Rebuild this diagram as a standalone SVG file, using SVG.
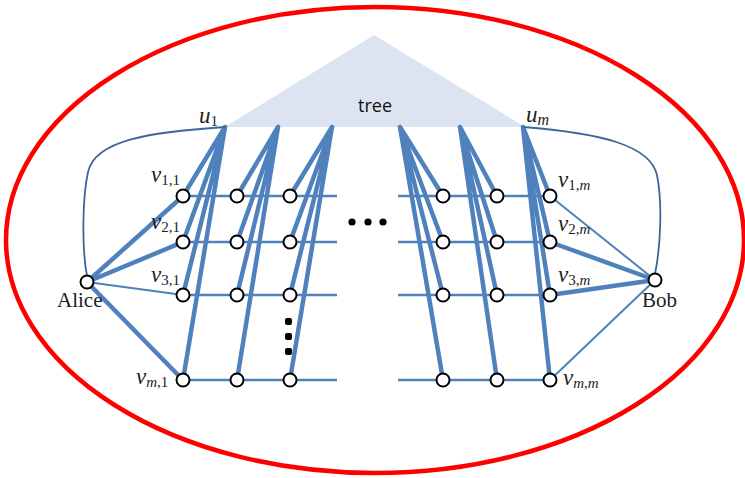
<svg xmlns="http://www.w3.org/2000/svg" width="745" height="478" viewBox="0 0 745 478">
  <style>
    .edge { stroke: #4f81bd; stroke-linecap: round; fill: none; }
    .thick { stroke-width: 4.5; }
    .thin { stroke-width: 2; }
    .row { stroke: #4f81bd; stroke-width: 2.4; fill: none; }
    .curve { stroke: #3d669a; stroke-width: 1.8; fill: none; }
    .node { fill: #fff; stroke: #000; stroke-width: 2; }
    .lbl { font-family: "Liberation Serif", "DejaVu Serif", serif; fill: #1e1e1e; }
    .var { font-style: italic; font-size: 23px; }
    .sub { font-size: 15px; }
    .name { font-family: "Liberation Serif", "DejaVu Serif", serif; font-size: 21px; fill: #1e1e1e; }
    .dot { fill: #000; }
  </style>

  <!-- outer boundary -->
  <ellipse cx="375" cy="240" rx="369" ry="233" fill="none" stroke="#ff0000" stroke-width="4.5"/>

  <!-- tree -->
  <g id="tree">
    <polygon points="374,35 225,127 525,127" fill="#dbe4f0"/>
    <text x="375" y="112" text-anchor="middle" font-family="Open Sans, Liberation Sans, sans-serif" font-size="18" fill="#111">tree</text>
  </g>

  <!-- connectors -->
  <g id="connectors">
    <!-- grid rows -->
    <path class="row" d="M183,196 H337 M183,242 H337 M183,295 H337 M183,380 H337"/>
    <path class="row" d="M398,196 H550 M398,242 H550 M398,295 H550 M398,380 H550"/>

    <!-- left columns from their roots -->
    <path class="edge thick" d="M225,127 L183,196 M225,127 L183,242 M225,127 L183,295 M225,127 L183,380"/>
    <path class="edge thick" d="M278,127 L237,196 M278,127 L237,242 M278,127 L237,295 M278,127 L237,380"/>
    <path class="edge thick" d="M332,127 L290,196 M332,127 L290,242 M332,127 L290,295 M332,127 L290,380"/>

    <!-- right columns from their roots -->
    <path class="edge thick" d="M400,127 L443,196 M400,127 L443,242 M400,127 L443,295 M400,127 L443,380"/>
    <path class="edge thick" d="M460,127 L497,196 M460,127 L497,242 M460,127 L497,295 M460,127 L497,380"/>
    <path class="edge thick" d="M523,127 L550,196 M523,127 L550,242 M523,127 L550,295 M523,127 L550,380"/>

    <!-- Alice -->
    <path class="edge thick" d="M87,282 L183,196 M87,282 L183,242 M87,282 L183,380"/>
    <path class="edge thin" d="M87,282 L183,295"/>

    <!-- Bob -->
    <path class="edge thick" d="M655,280 L550,242 M655,280 L550,295"/>
    <path class="edge thin" d="M655,280 L550,196 M655,280 L550,380"/>

    <!-- root links to the two ends -->
    <path class="curve" d="M225,127 C150,132 95,140 88,172 C82,200 82,250 87,276"/>
    <path class="curve" d="M523,127 C600,133 650,145 657,175 C663,205 660,250 655,274"/>
  </g>

  <!-- ellipsis marks -->
  <g id="ellipses">
    <circle class="dot" cx="352" cy="222" r="3.6"/>
    <circle class="dot" cx="368" cy="222" r="3.6"/>
    <circle class="dot" cx="383" cy="222" r="3.6"/>
    <rect class="dot" x="285" y="318" width="7" height="7" rx="2"/>
    <rect class="dot" x="285" y="333" width="7" height="7" rx="2"/>
    <rect class="dot" x="285" y="348" width="7" height="7" rx="2"/>
  </g>

  <!-- root labels -->
  <g id="u1"><text class="lbl" x="199" y="123"><tspan class="var">u</tspan><tspan class="sub" dy="3">1</tspan></text></g>
  <g id="um"><text class="lbl" x="526" y="122"><tspan class="var">u</tspan><tspan class="sub var" style="font-size:16px" dy="3">m</tspan></text></g>

  <!-- Alice and Bob -->
  <g id="alice">
    <circle class="node" cx="87" cy="282" r="6.5"/>
    <text class="name" x="57" y="307">Alice</text>
  </g>
  <g id="bob">
    <circle class="node" cx="655" cy="280" r="6.5"/>
    <text class="name" x="642" y="307">Bob</text>
  </g>

  <!-- left block -->
  <g id="v11"><circle class="node" cx="183" cy="196" r="6.5"/>
    <text class="lbl" x="151" y="182"><tspan class="var">v</tspan><tspan class="sub" dy="3">1,1</tspan></text></g>
  <g id="v21"><circle class="node" cx="183" cy="242" r="6.5"/>
    <text class="lbl" x="151" y="229"><tspan class="var">v</tspan><tspan class="sub" dy="3">2,1</tspan></text></g>
  <g id="v31"><circle class="node" cx="183" cy="295" r="6.5"/>
    <text class="lbl" x="151" y="282"><tspan class="var">v</tspan><tspan class="sub" dy="3">3,1</tspan></text></g>
  <g id="vm1"><circle class="node" cx="183" cy="380" r="6.5"/>
    <text class="lbl" x="136" y="384"><tspan class="var">v</tspan><tspan class="sub" dy="3"><tspan font-style="italic">m</tspan>,1</tspan></text></g>

  <g id="c2r1"><circle class="node" cx="237" cy="196" r="6.5"/></g>
  <g id="c2r2"><circle class="node" cx="237" cy="242" r="6.5"/></g>
  <g id="c2r3"><circle class="node" cx="237" cy="295" r="6.5"/></g>
  <g id="c2r4"><circle class="node" cx="237" cy="380" r="6.5"/></g>

  <g id="c3r1"><circle class="node" cx="290" cy="196" r="6.5"/></g>
  <g id="c3r2"><circle class="node" cx="290" cy="242" r="6.5"/></g>
  <g id="c3r3"><circle class="node" cx="290" cy="295" r="6.5"/></g>
  <g id="c3r4"><circle class="node" cx="290" cy="380" r="6.5"/></g>

  <!-- right block -->
  <g id="c4r1"><circle class="node" cx="443" cy="196" r="6.5"/></g>
  <g id="c4r2"><circle class="node" cx="443" cy="242" r="6.5"/></g>
  <g id="c4r3"><circle class="node" cx="443" cy="295" r="6.5"/></g>
  <g id="c4r4"><circle class="node" cx="443" cy="380" r="6.5"/></g>

  <g id="c5r1"><circle class="node" cx="497" cy="196" r="6.5"/></g>
  <g id="c5r2"><circle class="node" cx="497" cy="242" r="6.5"/></g>
  <g id="c5r3"><circle class="node" cx="497" cy="295" r="6.5"/></g>
  <g id="c5r4"><circle class="node" cx="497" cy="380" r="6.5"/></g>

  <g id="v1m"><circle class="node" cx="550" cy="196" r="6.5"/>
    <text class="lbl" x="558" y="187"><tspan class="var">v</tspan><tspan class="sub" dy="3">1,<tspan font-style="italic">m</tspan></tspan></text></g>
  <g id="v2m"><circle class="node" cx="550" cy="242" r="6.5"/>
    <text class="lbl" x="558" y="231"><tspan class="var">v</tspan><tspan class="sub" dy="3">2,<tspan font-style="italic">m</tspan></tspan></text></g>
  <g id="v3m"><circle class="node" cx="550" cy="295" r="6.5"/>
    <text class="lbl" x="558" y="282"><tspan class="var">v</tspan><tspan class="sub" dy="3">3,<tspan font-style="italic">m</tspan></tspan></text></g>
  <g id="vmm"><circle class="node" cx="550" cy="380" r="6.5"/>
    <text class="lbl" x="563" y="385"><tspan class="var">v</tspan><tspan class="sub" dy="3"><tspan font-style="italic">m</tspan>,<tspan font-style="italic">m</tspan></tspan></text></g>
</svg>
